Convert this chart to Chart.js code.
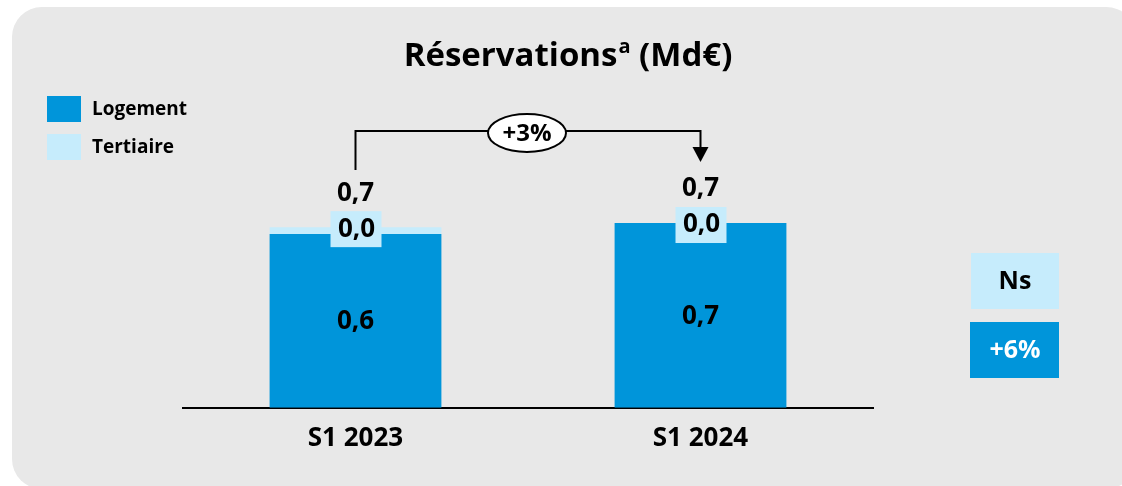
<!DOCTYPE html>
<html lang="fr">
<head>
  <meta charset="UTF-8">
  <title>Réservations</title>
  <script src="https://cdn.jsdelivr.net/npm/chart.js"></script>
  <style>
    body { margin: 0; background: #fff; }
    canvas { display: block; }
  </style>
</head>
<body>
  <canvas id="chart" width="1122" height="486"></canvas>
  <script>
    const categories = ['S1 2023', 'S1 2024'];
    const logement = [0.63, 0.67];
    const tertiaire = [0.025, 0.0];
    const seriesNames = ['Logement', 'Tertiaire'];
    const totalChange = '+3%';
    const seriesChange = ['+6%', 'Ns']; // Logement, Tertiaire

    const BLUE = '#0095da';
    const LIGHT = '#c6ecfc';
    const FONT = '"Open Sans", "Noto Sans", sans-serif';

    function fmt(v) {
      return v.toFixed(1).replace('.', ',');
    }

    function roundRect(ctx, x, y, w, h, r) {
      ctx.beginPath();
      ctx.moveTo(x + r, y);
      ctx.arcTo(x + w, y, x + w, y + h, r);
      ctx.arcTo(x + w, y + h, x, y + h, r);
      ctx.arcTo(x, y + h, x, y, r);
      ctx.arcTo(x, y, x + w, y, r);
      ctx.closePath();
    }

    const decorations = {
      id: 'decorations',
      beforeDraw(chart) {
        const ctx = chart.ctx;
        ctx.save();
        ctx.fillStyle = '#fff';
        ctx.fillRect(0, 0, chart.width, chart.height);
        ctx.fillStyle = '#e8e8e8';
        roundRect(ctx, 12, 7, 1124, 482, 30);
        ctx.fill();
        ctx.restore();
      },
      afterDraw(chart) {
        const ctx = chart.ctx;
        const x = chart.scales.x;
        const y = chart.scales.y;
        ctx.save();

        // title with superscript
        ctx.fillStyle = '#000';
        ctx.textBaseline = 'alphabetic';
        const big = 'bold 33px ' + FONT;
        const small = 'bold 20px ' + FONT;
        ctx.font = big;
        const w1 = ctx.measureText('Réservations').width;
        const w3 = ctx.measureText(' (Md€)').width;
        ctx.font = small;
        const w2 = ctx.measureText('a').width + 1;
        let tx = 568 - (w1 + w2 + w3) / 2;
        ctx.font = big;
        ctx.textAlign = 'left';
        ctx.fillText('Réservations', tx, 66);
        ctx.font = small;
        ctx.fillText('a', tx + w1 + 1, 53);
        ctx.font = big;
        ctx.fillText(' (Md€)', tx + w1 + w2, 66);

        // legend
        const legendColors = [BLUE, LIGHT];
        ctx.font = 'bold 19px ' + FONT;
        ctx.textBaseline = 'middle';
        seriesNames.forEach((name, i) => {
          ctx.fillStyle = legendColors[i];
          ctx.fillRect(47, 96 + i * 38, 34, 26);
          ctx.fillStyle = '#000';
          ctx.fillText(name, 92, 110 + i * 38);
        });

        // value labels
        ctx.textAlign = 'center';
        ctx.font = 'bold 26px ' + FONT;
        categories.forEach((c, i) => {
          const cx = x.getPixelForValue(i);
          const base = y.getPixelForValue(0);
          const top = y.getPixelForValue(logement[i] + tertiaire[i]);
          const logTop = y.getPixelForValue(logement[i]);
          ctx.fillStyle = '#000';
          ctx.fillText(fmt(logement[i]), cx, (base + logTop) / 2 + 1);
          // tertiaire label with light box
          const by = top + 2;
          ctx.fillStyle = LIGHT;
          ctx.fillRect(cx - 25, by - 18, 51, 36);
          ctx.fillStyle = '#000';
          ctx.fillText(fmt(tertiaire[i]), cx + 1, by);
          // total
          ctx.fillText(fmt(logement[i] + tertiaire[i]), cx, top - 34);
        });

        // growth bracket
        const x0 = x.getPixelForValue(0);
        const x1 = x.getPixelForValue(1);
        const lineY = 131;
        ctx.strokeStyle = '#000';
        ctx.lineWidth = 2;
        ctx.beginPath();
        ctx.moveTo(x0, 170);
        ctx.lineTo(x0, lineY);
        ctx.lineTo(x1, lineY);
        ctx.lineTo(x1, 148);
        ctx.stroke();
        ctx.fillStyle = '#000';
        ctx.beginPath();
        ctx.moveTo(x1 - 8, 147);
        ctx.lineTo(x1 + 8, 147);
        ctx.lineTo(x1, 162);
        ctx.closePath();
        ctx.fill();
        const ex = 527, ey = 133;
        ctx.beginPath();
        ctx.ellipse(ex, ey, 39, 19, 0, 0, Math.PI * 2);
        ctx.fillStyle = '#fff';
        ctx.fill();
        ctx.lineWidth = 2;
        ctx.stroke();
        ctx.fillStyle = '#000';
        ctx.font = 'bold 24px ' + FONT;
        ctx.fillText(totalChange, ex, ey + 1);

        // change boxes on the right
        ctx.font = 'bold 25px ' + FONT;
        ctx.fillStyle = LIGHT;
        ctx.fillRect(971, 253, 88, 56);
        ctx.fillStyle = '#000';
        ctx.fillText(seriesChange[1], 1015, 282);
        ctx.fillStyle = BLUE;
        ctx.fillRect(970, 322, 89, 56);
        ctx.fillStyle = '#fff';
        ctx.fillText(seriesChange[0], 1015, 351);

        ctx.restore();
      }
    };

    new Chart(document.getElementById('chart'), {
      type: 'bar',
      data: {
        labels: categories,
        datasets: [
          { label: seriesNames[0], data: logement, backgroundColor: BLUE },
          { label: seriesNames[1], data: tertiaire, backgroundColor: LIGHT }
        ]
      },
      options: {
        responsive: false,
        animation: false,
        layout: { padding: { left: 183, right: 249, top: 132, bottom: 17 } },
        datasets: { bar: { barPercentage: 1, categoryPercentage: 0.498 } },
        plugins: { legend: { display: false }, tooltip: { enabled: false } },
        scales: {
          x: {
            stacked: true,
            grid: { display: false, drawTicks: false },
            border: { display: true, color: '#000', width: 2 },
            ticks: { color: '#000', padding: 15, font: { family: FONT, size: 26, weight: 'bold' } }
          },
          y: {
            stacked: true,
            display: false,
            min: 0,
            max: 1.0
          }
        }
      },
      plugins: [decorations]
    });
  </script>
</body>
</html>
